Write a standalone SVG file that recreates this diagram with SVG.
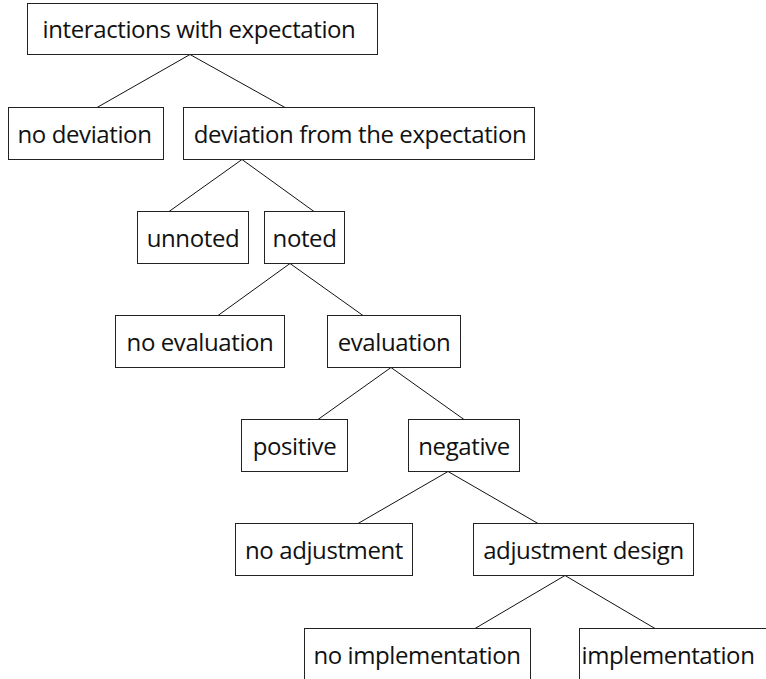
<svg xmlns="http://www.w3.org/2000/svg" width="766" height="679" viewBox="0 0 766 679">
<style>
.box{fill:#fff;stroke:#222;stroke-width:1}
.lbl{font-family:"Open Sans","Noto Sans",sans-serif;font-size:24px;letter-spacing:-0.4px;fill:#111;text-anchor:middle}
.con line{stroke:#111;stroke-width:1}
</style>
<rect width="766" height="679" fill="#fff"/>
<g class="con" id="connectors">
<line x1="190" y1="54.5" x2="97" y2="107.5"/>
<line x1="190" y1="54.5" x2="285" y2="107.5"/>
<line x1="242" y1="159.5" x2="169" y2="211.5"/>
<line x1="242" y1="159.5" x2="314" y2="211.5"/>
<line x1="290" y1="263.5" x2="218" y2="315.5"/>
<line x1="290" y1="263.5" x2="363" y2="315.5"/>
<line x1="391" y1="367.5" x2="318" y2="419.5"/>
<line x1="391" y1="367.5" x2="464" y2="419.5"/>
<line x1="448" y1="471.5" x2="358" y2="523.5"/>
<line x1="448" y1="471.5" x2="538" y2="523.5"/>
<line x1="565" y1="575.5" x2="475" y2="628.5"/>
<line x1="565" y1="575.5" x2="655" y2="628.5"/>
</g>
<g id="n1"><rect class="box" x="27.5" y="3.5" width="350" height="51"/><text class="lbl" x="199" y="38">interactions with expectation</text></g>
<g id="n2"><rect class="box" x="8.5" y="107.5" width="155" height="52"/><text class="lbl" x="84.5" y="142.5">no deviation</text></g>
<g id="n3"><rect class="box" x="183.5" y="107.5" width="351" height="52"/><text class="lbl" x="360" y="142.5">deviation from the expectation</text></g>
<g id="n4"><rect class="box" x="137.5" y="211.5" width="111" height="52"/><text class="lbl" x="193" y="246.5">unnoted</text></g>
<g id="n5"><rect class="box" x="264.5" y="211.5" width="80" height="52"/><text class="lbl" x="304.5" y="246.5">noted</text></g>
<g id="n6"><rect class="box" x="115.5" y="315.5" width="169" height="52"/><text class="lbl" x="200" y="350.5">no evaluation</text></g>
<g id="n7"><rect class="box" x="327.5" y="315.5" width="133" height="52"/><text class="lbl" x="394" y="350.5">evaluation</text></g>
<g id="n8"><rect class="box" x="241.5" y="419.5" width="106" height="52"/><text class="lbl" x="294.5" y="454.5">positive</text></g>
<g id="n9"><rect class="box" x="408.5" y="419.5" width="111" height="52"/><text class="lbl" x="464" y="454.5">negative</text></g>
<g id="n10"><rect class="box" x="235.5" y="523.5" width="177" height="52"/><text class="lbl" x="324" y="558.5">no adjustment</text></g>
<g id="n11"><rect class="box" x="473.5" y="523.5" width="220" height="52"/><text class="lbl" x="583.5" y="558.5">adjustment design</text></g>
<g id="n12"><rect class="box" x="304.5" y="628.5" width="226" height="60"/><text class="lbl" x="417" y="663.5">no implementation</text></g>
<g id="n13"><rect class="box" x="579.5" y="628.5" width="200" height="60"/><text class="lbl" x="668" y="663.5">implementation</text></g>
</svg>
